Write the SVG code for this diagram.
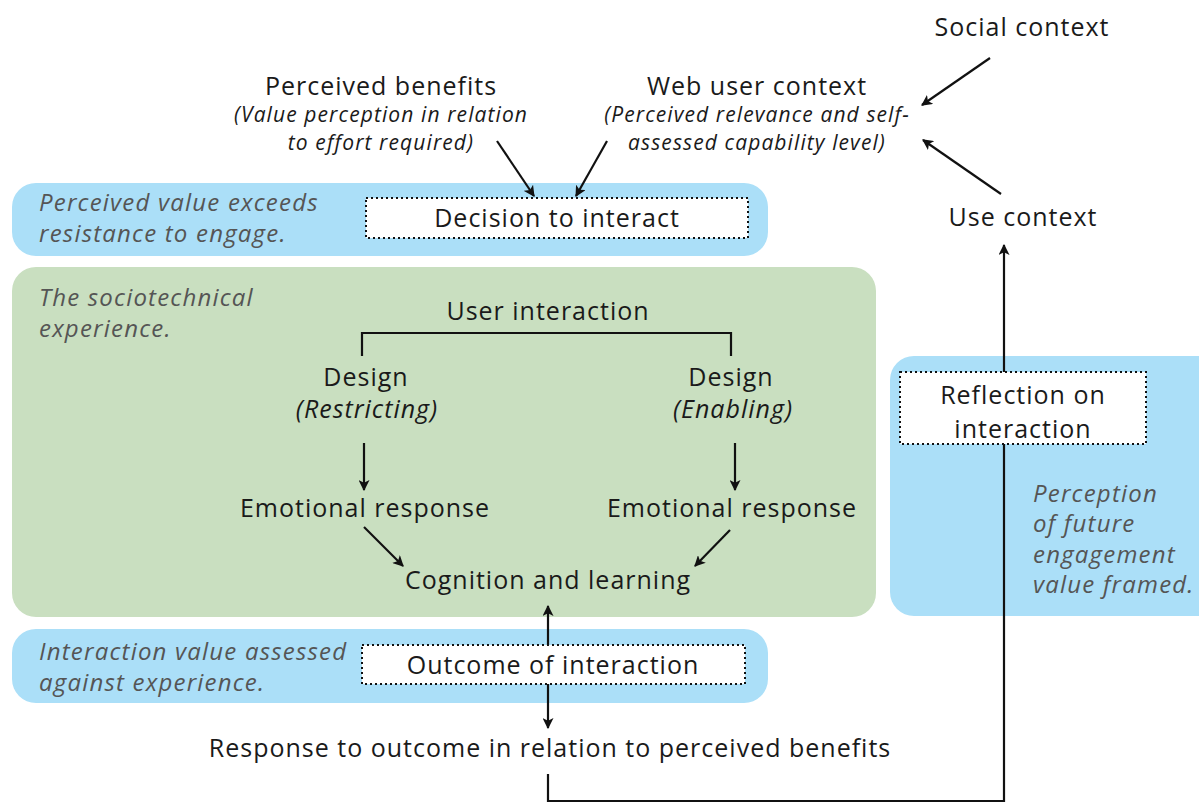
<svg xmlns="http://www.w3.org/2000/svg" width="1199" height="804" viewBox="0 0 1199 804">
<defs>
<marker id="ah" viewBox="0 0 10 10" refX="9" refY="5" markerWidth="11" markerHeight="11" markerUnits="userSpaceOnUse" orient="auto-start-reverse">
<path d="M0,0 L10,5 L0,10 L2.5,5 z" fill="#111"/>
</marker>
<style>
.t{font-family:"Open Sans","Noto Sans",sans-serif;font-size:25px;letter-spacing:1px;fill:#1a1a1a}
.s{font-family:"Open Sans","Noto Sans",sans-serif;font-size:21px;font-style:italic;letter-spacing:1.1px;fill:#1a1a1a}
.g{font-family:"Open Sans","Noto Sans",sans-serif;font-size:24px;font-style:italic;letter-spacing:1.2px;fill:#555}
.m{text-anchor:middle}
.blue{fill:#abdff8}
.green{fill:#c9dfc0}
.dot{fill:#fff;stroke:#111;stroke-width:2;stroke-dasharray:2 3}
.ln{fill:none;stroke:#111;stroke-width:2.2}
.ar{fill:none;stroke:#111;stroke-width:2.2;marker-end:url(#ah)}
</style>
</defs>

<g id="panels">
<rect id="panel-decision" class="blue" x="12" y="183" width="756" height="73" rx="24"/>
<rect id="panel-socio" class="green" x="12" y="267" width="864" height="350" rx="24"/>
<rect id="panel-reflection" class="blue" x="890" y="356" width="340" height="260" rx="24"/>
<rect id="panel-outcome" class="blue" x="12" y="629" width="756" height="74" rx="24"/>
</g>

<g id="connectors">
<line class="ar" x1="497" y1="141" x2="534" y2="196"/>
<line class="ar" x1="607" y1="141" x2="576" y2="196"/>
<line class="ar" x1="990" y1="58" x2="922" y2="105"/>
<line class="ar" x1="1001" y1="194" x2="923" y2="140"/>
<polyline class="ln" points="362,356 362,333 731,333 731,356"/>
<line class="ar" x1="364" y1="443" x2="364" y2="490"/>
<line class="ar" x1="735" y1="443" x2="735" y2="490"/>
<line class="ar" x1="364" y1="527" x2="403" y2="566"/>
<line class="ar" x1="730" y1="530" x2="695" y2="566"/>
<line class="ar" x1="548" y1="646" x2="548" y2="606"/>
<line class="ar" x1="548" y1="684" x2="548" y2="728"/>
<polyline class="ar" points="548,774 548,801 1004,801 1004,245"/>
</g>

<g id="social-context"><text class="t m" x="1022" y="36">Social context</text></g>
<g id="perceived-benefits">
<text class="t m" x="381" y="95">Perceived benefits</text>
<text class="s m" x="381" y="122">(Value perception in relation</text>
<text class="s m" x="381" y="150">to effort required)</text>
</g>
<g id="web-user-context">
<text class="t m" x="757" y="95">Web user context</text>
<text class="s m" x="757" y="122">(Perceived relevance and self-</text>
<text class="s m" x="757" y="150">assessed capability level)</text>
</g>
<g id="use-context"><text class="t m" x="1023" y="226">Use context</text></g>

<g id="decision">
<text class="g" x="39" y="211">Perceived value exceeds</text>
<text class="g" x="39" y="242">resistance to engage.</text>
<rect class="dot" x="366" y="198" width="382" height="40"/>
<text class="t m" x="557" y="227">Decision to interact</text>
</g>

<g id="sociotechnical">
<text class="g" x="39" y="306">The sociotechnical</text>
<text class="g" x="39" y="337">experience.</text>
</g>
<g id="user-interaction"><text class="t m" x="548" y="320">User interaction</text></g>
<g id="design-restricting">
<text class="t m" x="366" y="386">Design</text>
<text class="t m" x="367" y="418" font-style="italic">(Restricting)</text>
</g>
<g id="design-enabling">
<text class="t m" x="731" y="386">Design</text>
<text class="t m" x="733" y="418" font-style="italic">(Enabling)</text>
</g>
<g id="emotional-left"><text class="t m" x="365" y="517">Emotional response</text></g>
<g id="emotional-right"><text class="t m" x="732" y="517">Emotional response</text></g>
<g id="cognition"><text class="t m" x="548" y="589">Cognition and learning</text></g>

<g id="reflection">
<rect class="dot" x="900" y="372" width="246" height="72"/>
<text class="t m" x="1023" y="404">Reflection on</text>
<text class="t m" x="1023" y="438">interaction</text>
<text class="g" x="1033" y="502">Perception</text>
<text class="g" x="1033" y="532">of future</text>
<text class="g" x="1033" y="563">engagement</text>
<text class="g" x="1033" y="593">value framed.</text>
</g>

<g id="outcome">
<text class="g" x="39" y="660">Interaction value assessed</text>
<text class="g" x="39" y="691">against experience.</text>
<rect class="dot" x="362" y="645" width="383" height="39"/>
<text class="t m" x="553" y="674">Outcome of interaction</text>
</g>

<g id="response"><text class="t m" x="550" y="757">Response to outcome in relation to perceived benefits</text></g>
</svg>
